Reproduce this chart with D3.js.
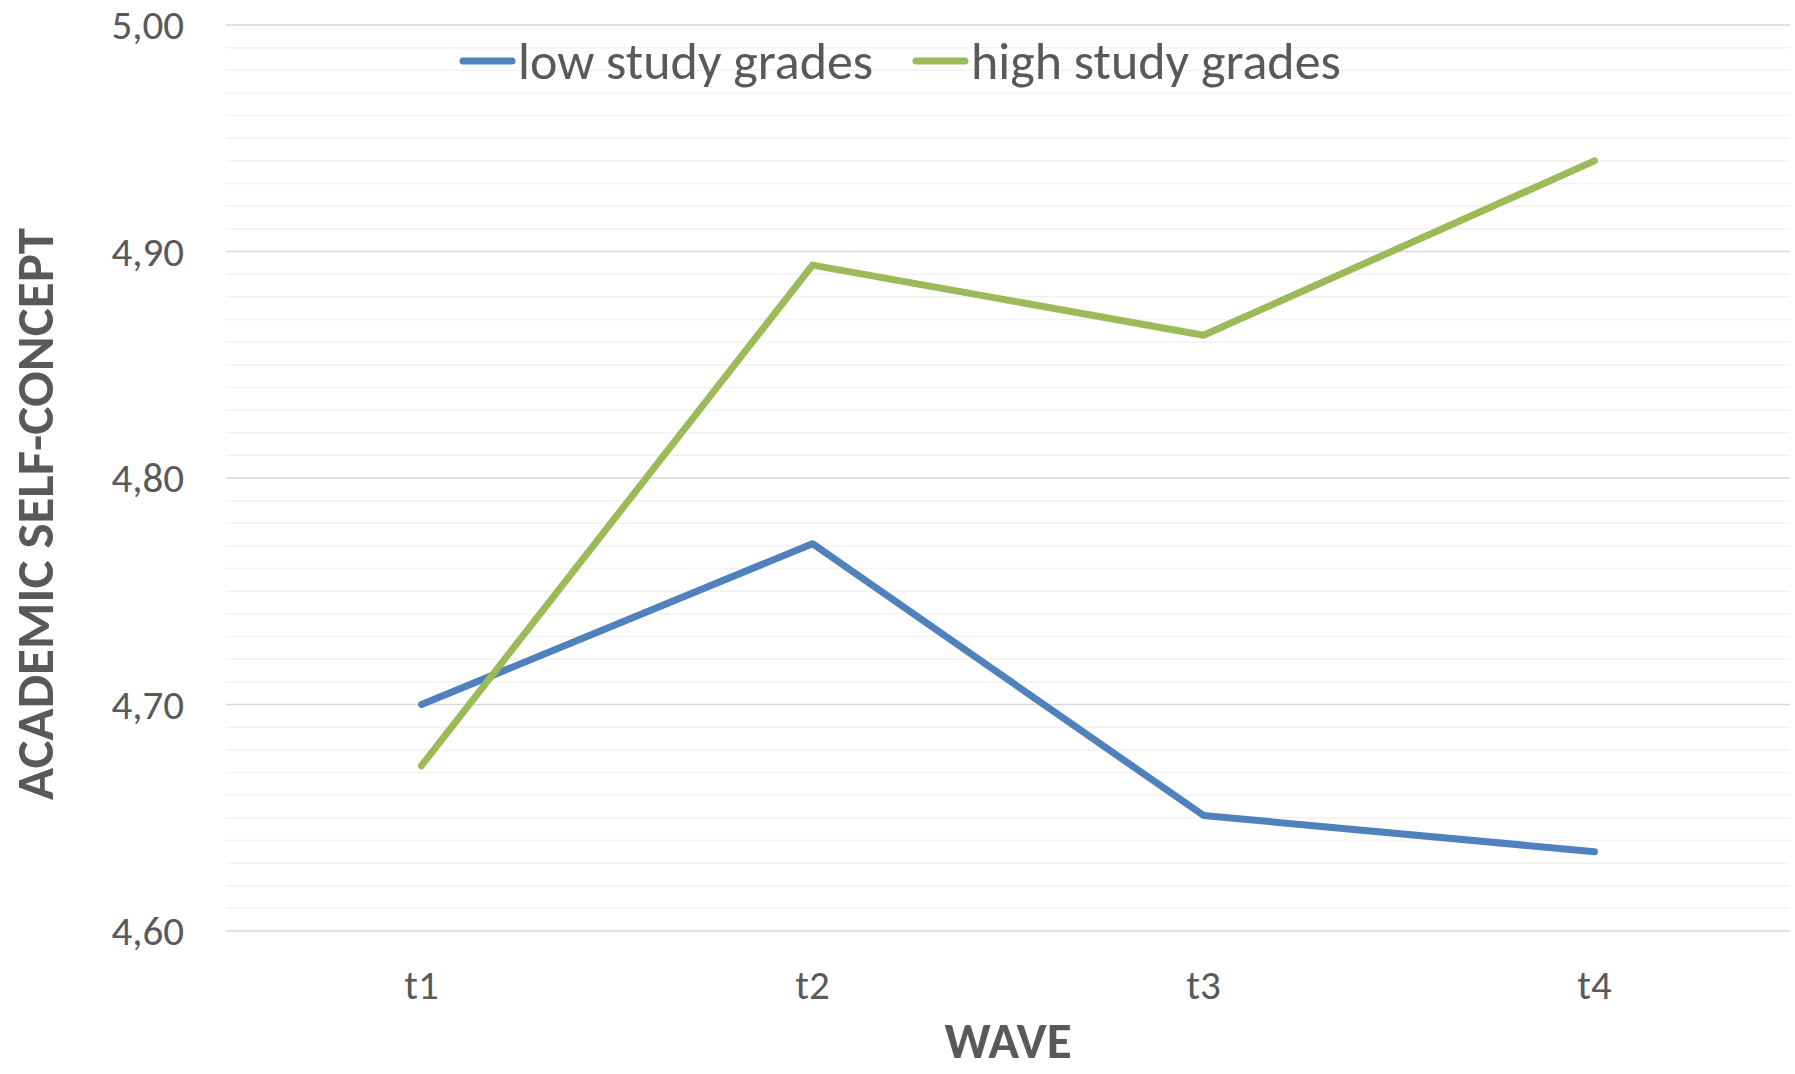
<!DOCTYPE html>
<html>
<head>
<meta charset="utf-8">
<script src="https://cdn.jsdelivr.net/npm/d3@7"></script>
<style>
  body { margin: 0; background: #fff; }
  text { font-family: Carlito, Calibri, "Liberation Sans Narrow", "Open Sans", sans-serif; fill: #595959; }
</style>
</head>
<body>
<div id="chart"></div>
<script>
// chart data
const waves = ["t1", "t2", "t3", "t4"];
const lowGrades = [4.700, 4.771, 4.651, 4.635];
const highGrades = [4.673, 4.894, 4.863, 4.940];
const seriesNames = ["low study grades", "high study grades"];
const seriesColors = ["#4f81bd", "#9bbb59"];
const yTicks = [4.60, 4.70, 4.80, 4.90, 5.00];

let width = 1795;
let height = 1074;
let plotLeft = 226, plotRight = 1790, plotTop = 25, plotBottom = 931;

let svg = d3.select("#chart").append("svg").attr("width", width).attr("height", height);

let x = d3.scaleBand().domain(waves).range([plotLeft, plotRight]);
let y = d3.scaleLinear().domain([4.6, 5.0]).range([plotBottom, plotTop]);

// minor grid every 0.01
let minor = d3.range(0, 41).map(i => 4.6 + i * 0.01).filter((d, i) => i % 10 != 0);
svg.append("g").selectAll("line").data(minor).enter().append("line")
  .attr("x1", plotLeft).attr("x2", plotRight)
  .attr("y1", d => y(d)).attr("y2", d => y(d))
  .attr("stroke", "#f2f2f2").attr("stroke-width", 1.5);

// major grid
svg.append("g").selectAll("line").data(yTicks).enter().append("line")
  .attr("x1", plotLeft).attr("x2", plotRight)
  .attr("y1", d => y(d)).attr("y2", d => y(d))
  .attr("stroke", "#d9d9d9").attr("stroke-width", 1.5);

// y tick labels
svg.append("g").selectAll("text").data(yTicks).enter().append("text")
  .attr("x", 184).attr("y", d => y(d)).attr("dy", "0.35em")
  .attr("text-anchor", "end").style("font-size", "41px")
  .text(d => d.toFixed(2).replace(".", ","));

// x tick labels
svg.append("g").selectAll("text").data(waves).enter().append("text")
  .attr("x", d => x(d) + x.bandwidth() / 2).attr("y", 985).attr("dy", "0.35em")
  .attr("text-anchor", "middle").style("font-size", "41px")
  .text(d => d);

// axis titles
svg.append("text").attr("x", (plotLeft + plotRight) / 2).attr("y", 1040).attr("dy", "0.35em")
  .attr("text-anchor", "middle").style("font-size", "51px").style("font-weight", "bold")
  .text("WAVE");
svg.append("text").attr("transform", "translate(34,514) rotate(-90)").attr("dy", "0.35em")
  .attr("text-anchor", "middle").style("font-size", "53px").style("font-weight", "bold")
  .text("ACADEMIC SELF-CONCEPT");

// lines
let line = d3.line().x((d, i) => x(waves[i]) + x.bandwidth() / 2).y(d => y(d));
[lowGrades, highGrades].forEach((s, i) => {
  svg.append("path").datum(s).attr("d", line)
    .attr("fill", "none").attr("stroke", seriesColors[i])
    .attr("stroke-width", 7).attr("stroke-linecap", "round").attr("stroke-linejoin", "round");
});

// legend
let legendX = [460, 913];
seriesNames.forEach((n, i) => {
  svg.append("line").attr("x1", legendX[i] + 3).attr("x2", legendX[i] + 52)
    .attr("y1", 61).attr("y2", 61)
    .attr("stroke", seriesColors[i]).attr("stroke-width", 7).attr("stroke-linecap", "round");
  svg.append("text").attr("x", legendX[i] + 58).attr("y", 61).attr("dy", "0.35em")
    .style("font-size", "52px").text(n);
});
</script>
</body>
</html>
